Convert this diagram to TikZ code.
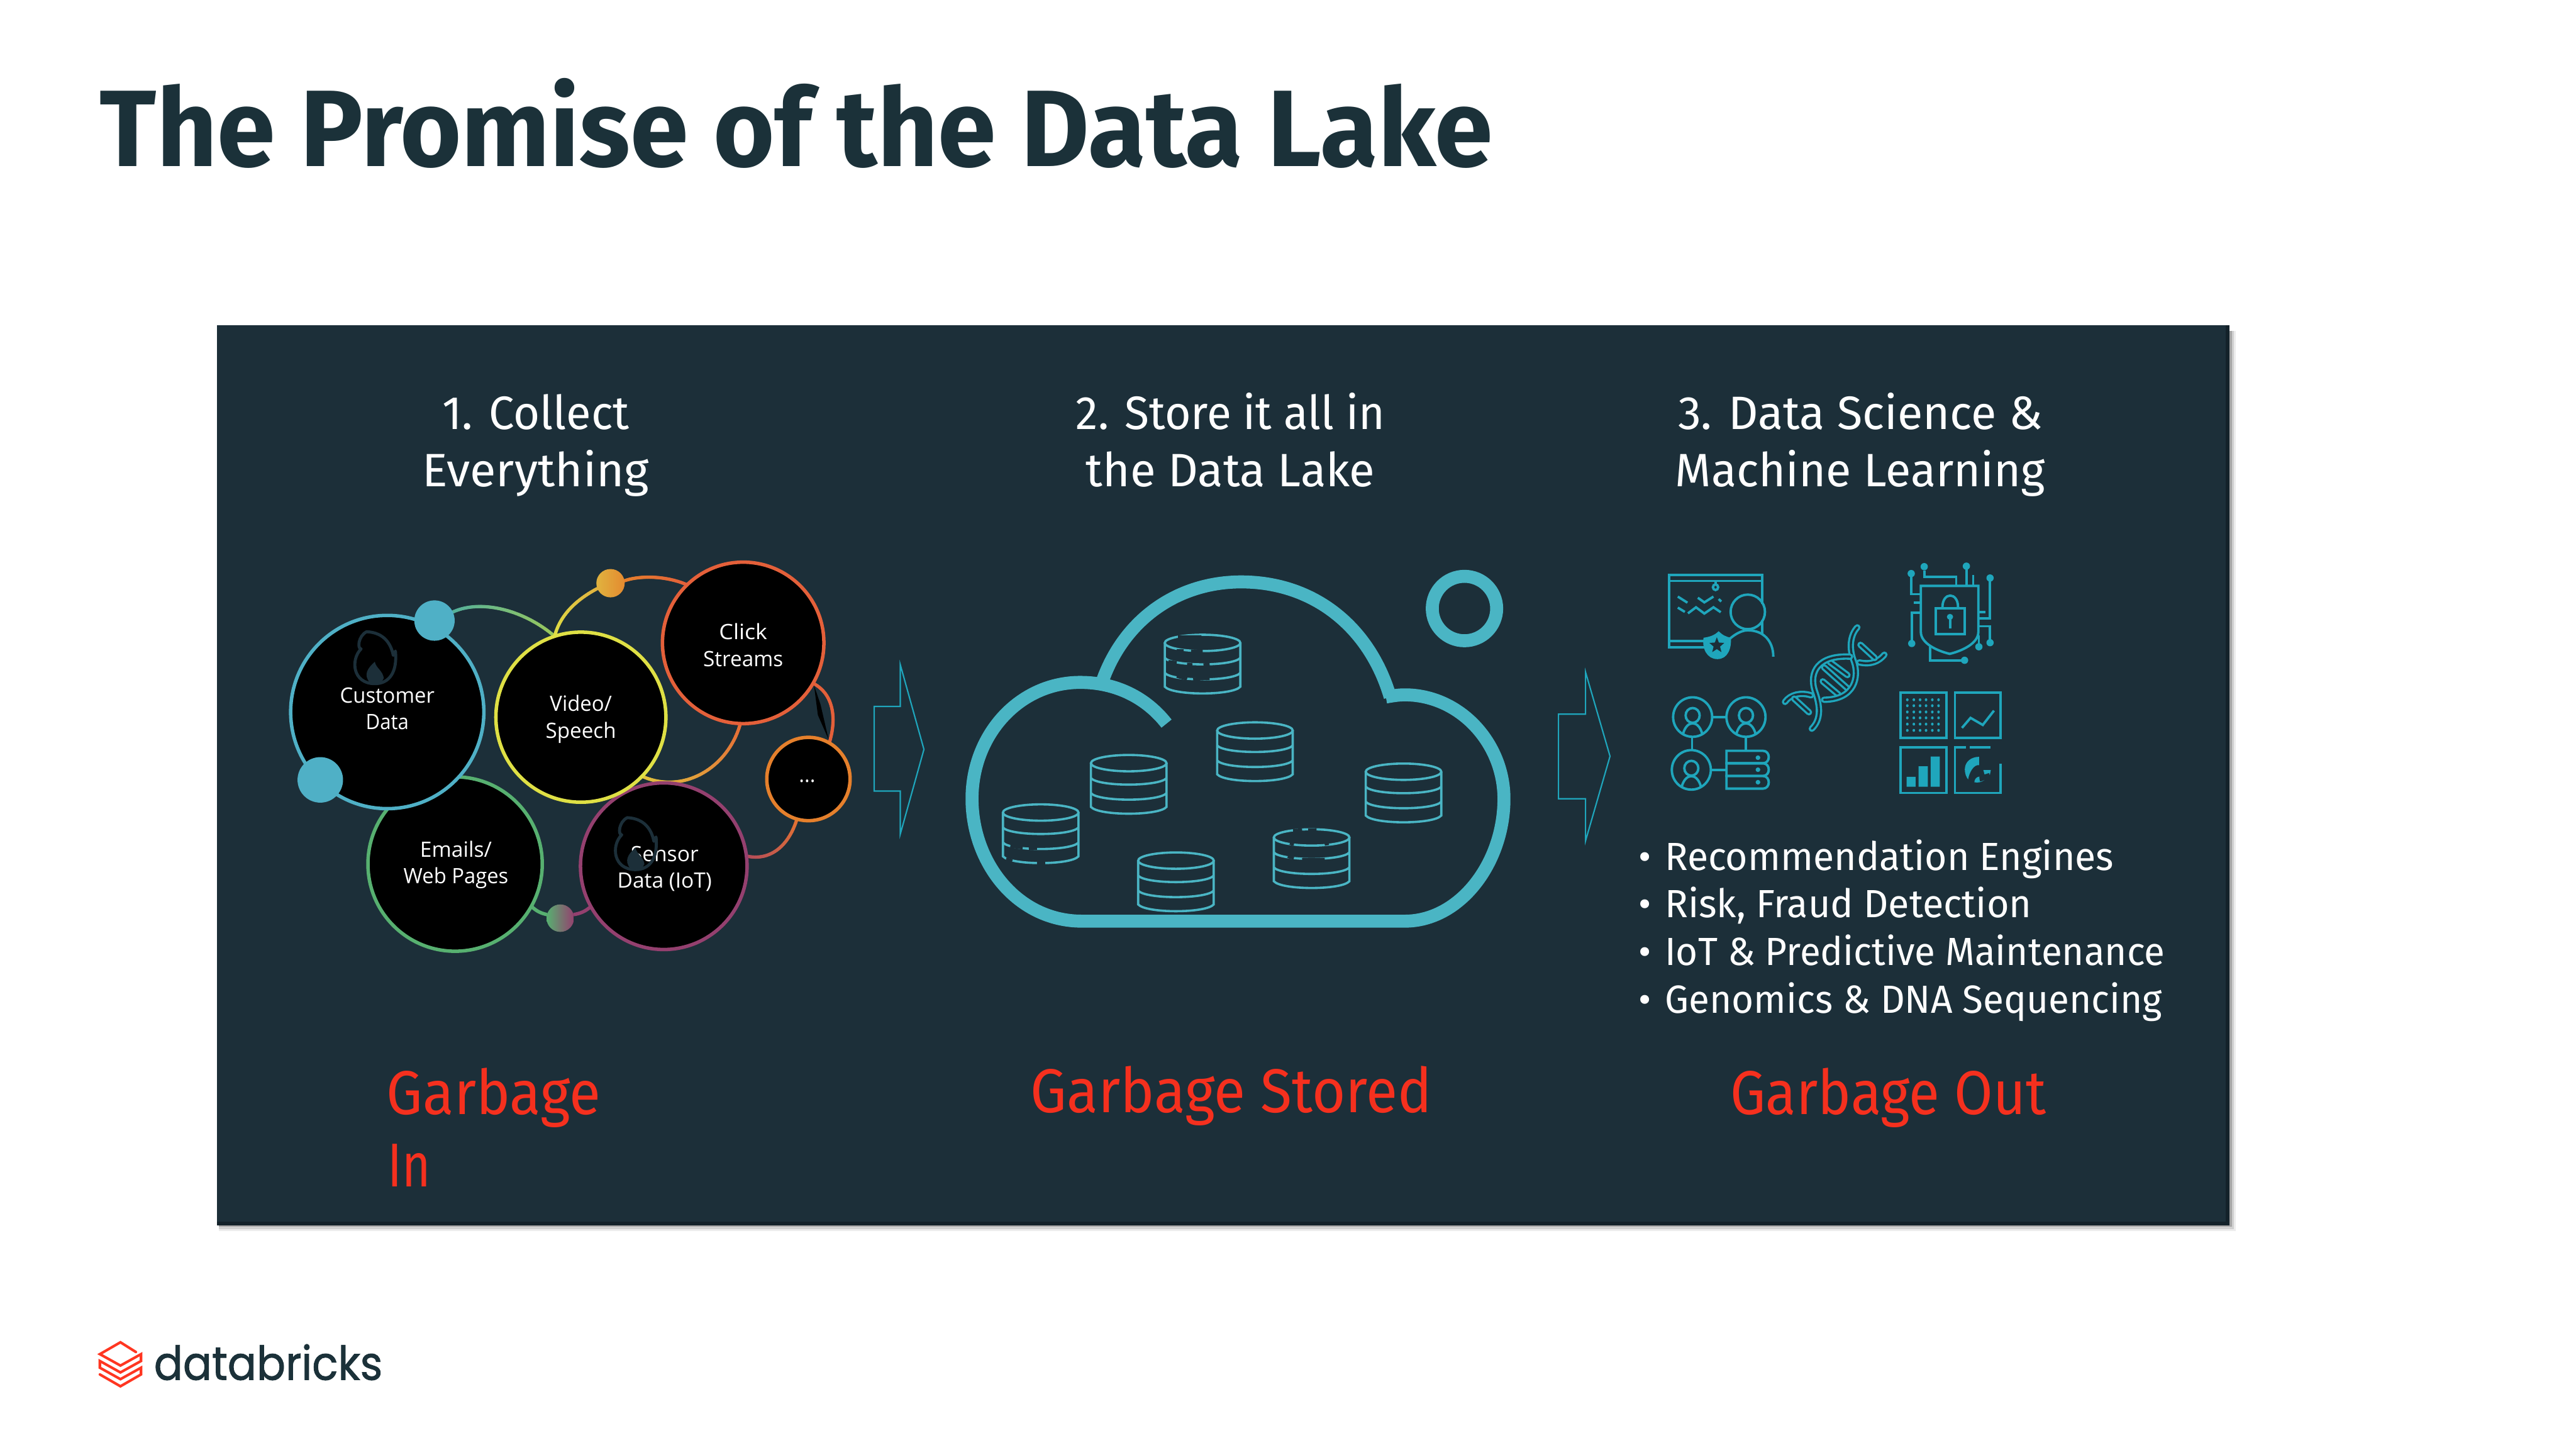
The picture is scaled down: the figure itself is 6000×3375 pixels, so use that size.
\documentclass[tikz,border=0pt]{standalone}
\usepackage{fontspec}
\usetikzlibrary{decorations.markings}
\setmainfont{Fira Sans}
\newfontfamily\labelfont{Open Sans}
\newfontfamily\logofont{Poppins}[FakeBold=1.2]
\definecolor{panelc}{HTML}{1C2F39}
\definecolor{paneld}{HTML}{13222A}
\definecolor{titlec}{HTML}{1B3139}
\definecolor{tealc}{HTML}{4AB5C4}
\definecolor{iconc}{HTML}{1FA6BC}
\definecolor{redc}{HTML}{F5301E}
\definecolor{logored}{HTML}{FF3621}
\definecolor{cCust}{HTML}{4FB0C6}
\definecolor{cVideo}{HTML}{DFE045}
\definecolor{cClick}{HTML}{E4603A}
\definecolor{cDots}{HTML}{E5802C}
\definecolor{cMail}{HTML}{57B070}
\definecolor{cSens}{HTML}{94406F}
\definecolor{cGold}{HTML}{E0B33F}
\def\fs#1#2{\fontsize{#1}{#2}\selectfont}
\newsavebox\fitbox
\newcommand{\fitx}[2]{\sbox\fitbox{#2}\pgfmathsetmacro\fxs{#1*0.28453/\the\wd\fitbox}\scalebox{\fxs}[1]{\usebox\fitbox}\strut}
\tikzset{
  x=0.01cm,y=-0.01cm,
  hub/.style={circle,inner sep=0pt,outer sep=0pt,minimum size=#1*0.28453pt},
  ring/.style={fill=black,line width=2.3pt},
  lab/.style={text=white,align=center,inner sep=0pt,font=\labelfont\fs{14}{17.6}},
  head/.style={text=white,align=center,font=\fs{31}{38},inner sep=0pt},
  redtext/.style={text=redc,font=\fs{41}{47},inner sep=0pt,anchor=base},
  bullet/.style={text=white,font=\fs{26}{30},inner sep=0pt,anchor=base west},
  flame/.style={draw=panelc,line width=2pt},
  chevron/.style={draw=iconc,line width=0.9pt,line join=miter},
  drum/.style={draw=tealc,line width=1.5pt},
  cloudline/.style={draw=tealc,line width=8.6pt,line cap=butt,line join=round},
  ic/.style={draw=iconc,line width=1.6pt},
  icf/.style={fill=iconc,draw=none},
  dna/.style={draw=iconc,line width=1.4pt,double=panelc,double distance=1.4pt,line cap=round},
  gapc/.style={draw=panelc,line width=2pt},
  logol/.style={draw=logored,line width=1.7pt,line join=miter,line cap=round},
  gradarc/.style n args={3}{decorate,decoration={markings,mark=between positions 0 and 1 step 0.7pt with {%
     \pgfmathsetmacro\pct{100*\pgfkeysvalueof{/pgf/decoration/mark info/distance from start}/\pgfdecoratedpathlength}%
     \fill[color=#2!\pct!#1] (0,0) circle[radius=#3];}}},
}
\newcommand{\drumicon}[3]{% name, x, y
  \coordinate (#1) at (#2,#3);
  \begin{scope}[shift={(#1)}]
    \draw[drum] (-88,0) -- (-88,102) .. controls (-70,123) and (70,123) .. (88,102) -- (88,0);
    \draw[drum] (0,0) ellipse[x radius=88,y radius=19];
    \draw[drum] (-88,35) .. controls (-70,55) and (70,55) .. (88,35);
    \draw[drum] (-88,70) .. controls (-70,90) and (70,90) .. (88,70);
  \end{scope}}
\newcommand{\flameicon}[3]{% name x y (top-left)
  \coordinate (#1) at (#2,#3);
  \begin{scope}[shift={(#1)}]
    \draw[flame,line join=round] (28,0) .. controls (8,10) and (6,40) .. (15,40) .. controls (-10,65) and (-5,121) .. (47,121)
      .. controls (80,121) and (100,95) .. (95,45) -- (90,55) .. controls (85,30) and (70,2) .. (28,0) -- cycle;
    \fill[panelc] (35,118) .. controls (20,100) and (30,85) .. (47,70) .. controls (50,85) and (65,90) .. (68,108) .. controls (65,118) and (55,121) .. (47,121) -- cycle;
  \end{scope}}
\newcommand{\personicon}[3]{% name, cx, cy in crop coordinates
  \coordinate (#1) at (#2,#3);
  \begin{scope}[shift={(#1)}]
    \draw[ic] (0,0) ellipse[x radius=75,y radius=120];
    \draw[ic] (0,-10) ellipse[x radius=27,y radius=45];
    \draw[ic] (-37,103) .. controls (-30,60) and (-15,38) .. (0,38) .. controls (15,38) and (30,60) .. (37,103);
  \end{scope}}
\begin{document}
\begin{tikzpicture}
\useasboundingbox (0,0) rectangle (6000,3375);
\fill[white] (0,0) rectangle (6000,3375);
\node[anchor=base west,inner sep=0pt,text=titlec,font=\bfseries\fs{72}{86}] (title) at (232,388) {\fitx{3242}{The Promise of the Data Lake}};
% panel
\fill[black!7] (510,770) rectangle (5208,2867);
\fill[black!18] (510,770) rectangle (5203,2862);
\fill[black!35] (510,770) rectangle (5198,2857);
\fill[paneld] (505,757) rectangle (5193,2853);
\fill[panelc] (505,757) rectangle (5184,2844);
% headings
\node[head] (h1) at (1248,1040) {\fitx{436}{1. Collect}\\\fitx{528}{Everything}};
\node[head] (h2) at (2866,1040) {\fitx{719}{2. Store it all in}\\\fitx{673}{the Data Lake}};
\node[head] (h3) at (4333,1040) {\fitx{849}{3. Data Science \&}\\\fitx{861}{Machine Learning}};
% bubble anchors
\node[hub=450] (cust) at (902,1658) {};
\node[hub=396] (video) at (1353,1670) {};
\node[hub=376] (click) at (1731,1497) {};
\node[hub=194] (dots) at (1883,1814) {};
\node[hub=406] (mail) at (1060,2012) {};
\node[hub=388] (sens) at (1546,2017) {};
\node[hub=94] (n1) at (1012,1445) {};
\node[hub=106] (n2) at (746,1816) {};
\node[hub=66] (n3) at (1422,1358) {};
\node[hub=64] (n4) at (1305,2138) {};
% connectors
\path[gradarc={cCust!50!cMail}{cVideo}{1.15pt}] (n1.25) .. controls (1120,1395) and (1220,1420) .. (video.108);
\path[gradarc={cVideo}{cGold}{1.15pt}] (video.108) .. controls (1305,1430) and (1345,1395) .. (n3.202);
\path[gradarc={cDots}{cClick}{1.15pt}] (n3.10) .. controls (1490,1340) and (1550,1340) .. (click.134);
\path[gradarc={cClick!70!cDots}{cVideo}{1.15pt}] (click.-92) .. controls (1695,1790) and (1590,1850) .. (video.-44);
\path[gradarc={cClick}{cClick}{1.15pt}] (click.-30) .. controls (1940,1615) and (1950,1670) .. (dots.60);
\path[gradarc={cDots!60!cClick}{cSens}{1.15pt}] (dots.-106) .. controls (1835,1975) and (1790,2005) .. (sens.7);
\draw[cMail,line width=2.3pt] (mail.-29) to[bend right=15] (n4.165);
\draw[cSens,line width=2.3pt] (n4.15) to[bend right=15] (sens.209);
% bubbles
\draw[ring,cMail,fill=black] (mail) circle[radius=203];
\draw[ring,cCust,fill=black] (cust) circle[radius=225];
\draw[ring,cSens,fill=black] (sens) circle[radius=194];
\draw[ring,cVideo,fill=black] (video) circle[radius=198];
\draw[ring,cClick,fill=black] (click) circle[radius=188];
\draw[ring,cDots,fill=black] (dots) circle[radius=97];
\fill[black] (1896,1596) -- (1911,1640) -- (1930,1722) -- (1905,1665) -- cycle;
\fill[cCust] (n1) circle[radius=47];
\fill[cCust] (n2) circle[radius=53];
\shade[left color=cGold,right color=cDots!80!cGold] (n3) circle[radius=33];
\shade[left color=cMail,right color=cSens] (n4) circle[radius=32];
% bubble labels
\node[lab] (lcust) at (902,1655) {\fitx{220}{Customer}\\\fitx{100}{Data}};
\node[lab] (lvideo) at (1353,1675) {\fitx{144}{Video/}\\\fitx{164}{Speech}};
\node[lab] (lclick) at (1731,1508) {\fitx{112}{Click}\\\fitx{186}{Streams}};
\node[lab] (ldots) at (1880,1809) {\fitx{38}{...}};
\node[lab] (lmail) at (1062,2014) {\fitx{167}{Emails/}\\\fitx{244}{Web Pages}};
\node[lab] (lsens) at (1548,2025) {\fitx{158}{Sensor}\\\fitx{220}{Data (IoT)}};
\flameicon{fl1}{826}{1471}
\flameicon{fl2}{1433}{1904}
% chevrons
\draw[chevron] (2036,1645) -- (2097,1645) -- (2097,1548) -- (2152,1745) -- (2097,1942) -- (2097,1842) -- (2036,1842) -- cycle;
\draw[chevron] (3630,1663) -- (3693,1663) -- (3693,1565) -- (3750,1761) -- (3693,1958) -- (3693,1860) -- (3630,1860) -- cycle;
% cloud
\draw[cloudline] (2717,1685) .. controls (2670,1625) and (2600,1589) .. (2516,1589) .. controls (2375,1589) and (2264,1710) .. (2264,1860) .. controls (2264,2010) and (2370,2145) .. (2520,2145) -- (3272,2145) .. controls (3400,2145) and (3503,2010) .. (3503,1860) .. controls (3503,1730) and (3400,1618) .. (3272,1618) .. controls (3258,1618) and (3245,1620) .. (3228,1623);
\draw[cloudline] (2568,1585) .. controls (2620,1440) and (2745,1355) .. (2891,1355) .. controls (3060,1355) and (3190,1460) .. (3238,1623);
\draw[draw=tealc,line width=8.6pt] (3411,1417) circle[radius=75];
\drumicon{da}{2801}{1497}
\drumicon{db}{2923}{1701}
\drumicon{dc}{2629}{1777}
\drumicon{dd}{3269}{1797}
\drumicon{de}{2424}{1892}
\drumicon{df}{2739}{2004}
\drumicon{dg}{3055}{1950}
\begin{scope}[shift={(2200,1280)},x=0.00957cm,y=-0.00638cm]
  \draw[gapc] (568,318)--(625,318) (565,368)--(582,368) (600,370)--(628,370) (545,408)--(565,412) (590,418)--(603,420) (630,420)--(645,418) (565,462)--(590,472) (605,473)--(645,470);
  \draw[gapc] (160,1082)--(190,1088) (205,1090)--(225,1090) (150,1128)--(165,1135) (225,1142)--(245,1142);
  \draw[gapc] (848,1025)--(870,1022) (885,1022)--(905,1022) (840,1072)--(850,1075) (925,1075)--(935,1072) (835,1120)--(850,1125) (870,1130)--(925,1130);
\end{scope}
% icons, in crop coordinates
\begin{scope}[shift={(3800,1280)},x=0.00606cm,y=-0.00383cm]
  % presenter
  \draw[ic] (503,330) -- (503,155) -- (145,155) -- (145,593) -- (280,593) (145,190) -- (503,190) (145,555) -- (280,555) (503,430) -- (503,515);
  \draw[ic] (323,195) -- (323,210);
  \draw[ic] (323,228) ellipse[x radius=10,y radius=17];
  \draw[ic] (178,285) -- (215,322) (255,292) -- (280,320) -- (315,285) (335,300) -- (345,315);
  \draw[ic] (178,352) -- (205,378) (217,387) -- (248,350) -- (280,388) -- (315,350) -- (343,380);
  \draw[ic] (447,378) ellipse[x radius=66,y radius=105];
  \draw[ic] (375,545) .. controls (400,510) and (425,490) .. (447,490) .. controls (510,490) and (545,560) .. (545,650);
  \fill[iconc] (335,495) .. controls (320,520) and (300,530) .. (277,535) .. controls (270,600) and (290,665) .. (330,665) .. controls (370,665) and (385,600) .. (382,535) .. controls (365,530) and (350,520) .. (335,495) -- cycle;
  \fill[panelc] plot[samples at={0,...,9}] ({328+(mod(\x,2)==0?30:13)*cos(90+36*\x)},{582-(mod(\x,2)==0?50:22)*sin(90+36*\x)}) -- cycle;
  % shield
  \draw[ic] (1112,220) -- (1333,220) -- (1333,500) .. controls (1333,570) and (1270,615) .. (1223,633) .. controls (1175,615) and (1112,570) .. (1112,500) -- cycle;
  \draw[ic] (1170,355) rectangle (1280,513);
  \draw[ic] (1195,350) .. controls (1195,255) and (1255,255) .. (1255,350);
  \fill[iconc] (1224,408) ellipse[x radius=12,y radius=18];
  \draw[ic] (1224,420) -- (1224,480);
  \draw[ic] (1075,165) -- (1075,270) -- (1110,270) (1125,125) -- (1125,165) -- (1248,165) -- (1248,215) (1287,120) -- (1287,215) (1313,155) -- (1313,215) (1378,190) -- (1378,418) -- (1335,418) (1085,322) -- (1108,322) (1335,378) -- (1360,378) (1077,550) -- (1077,382) -- (1110,382) (1335,465) -- (1378,465) -- (1378,545) (1335,520) -- (1335,570) (1147,590) -- (1147,672) -- (1270,672);
  \foreach \a/\b in {1075/145,1125/103,1287/100,1378/172,1077/570,1378/565,1335/590,1280/672}{\fill[iconc] (\a,\b) ellipse[x radius=14,y radius=22];}
  % dna
  \draw[dna] (972,638) .. controls (950,680) and (920,700) .. (875,685);
  \draw[dna] (590,925) .. controls (610,880) and (650,865) .. (690,885);
  \draw[dna] (880,578) -- (935,658);
  \draw[dna] (625,905) -- (682,988);
  \draw[dna] (762,682) -- (830,762);
  \draw[dna] (740,715) -- (832,845);
  \draw[dna] (735,800) -- (795,880);
  \draw[dna] (868,472) .. controls (840,520) and (835,600) .. (855,680) .. controls (875,770) and (860,910) .. (740,912);
  \draw[dna] (693,1088) .. controls (730,1030) and (725,950) .. (705,860) .. controls (680,740) and (720,640) .. (840,650);
  % network
  \personicon{pa}{235}{1017}
  \personicon{pb}{440}{1017}
  \personicon{pc}{230}{1338}
  \draw[ic] (310,1018) -- (365,1018) (233,1137) -- (233,1218) (440,1137) -- (440,1222) (305,1338) -- (365,1338);
  \draw[ic] (365,1222) -- (505,1222) .. controls (535,1222) and (535,1298) .. (505,1298) -- (365,1298) -- cycle;
  \draw[ic] (365,1298) -- (505,1298) .. controls (535,1298) and (535,1375) .. (505,1375) -- (365,1375) -- cycle;
  \draw[ic] (365,1375) -- (505,1375) .. controls (535,1375) and (535,1452) .. (505,1452) -- (365,1452) -- cycle;
  \foreach \b in {1264,1337,1413}{\fill[iconc] (486,\b) ellipse[x radius=9,y radius=14];}
  % dashboards
  \draw[ic] (1035,867) rectangle (1210,1143);
  \draw[ic] (1243,867) rectangle (1418,1143);
  \draw[ic] (1035,1200) rectangle (1210,1478);
  \draw[ic] (1243,1200) rectangle (1418,1478);
  \foreach \a in {1060,1085,1109,1132,1156,1180}{\foreach \b in {912,948,986,1022,1060,1098}{\fill[iconc] (\a,\b) ellipse[x radius=5,y radius=9];}}
  \draw[ic] (1270,1083) -- (1303,1022) -- (1350,1065) -- (1393,978);
  \fill[iconc] (1057,1380) rectangle (1092,1440) (1103,1316) rectangle (1139,1440) (1150,1257) rectangle (1185,1440);
  \draw[gapc,line width=2.2pt] (1285,1198) -- (1300,1198) (1380,1198) -- (1425,1198) (1420,1205) -- (1420,1300);
\end{scope}
\begin{scope}[shift={(4400,1750)},x=0.00333cm,y=-0.00333cm]
  \fill[iconc] (630,37) .. controls (570,37) and (530,75) .. (530,125) .. controls (530,155) and (540,178) .. (553,195) .. controls (560,150) and (590,90) .. (630,95) -- cycle;
  \fill[iconc] (660,130) -- (712,130) -- (705,165) -- (700,150) -- (668,160) -- cycle;
  \fill[iconc] (597,215) .. controls (597,195) and (610,178) .. (632,175) .. controls (632,195) and (635,205) .. (636,210) .. controls (650,208) and (660,204) .. (667,199) .. controls (650,215) and (620,220) .. (597,215) -- cycle;
\end{scope}
% bullets
\node[bullet] (b1) at (3877,2026) {\fitx{1045}{Recommendation Engines}};
\node[bullet] (b2) at (3877,2136) {\fitx{854}{Risk, Fraud Detection}};
\node[bullet] (b3) at (3877,2248) {\fitx{1164}{IoT \& Predictive Maintenance}};
\node[bullet] (b4) at (3877,2359) {\fitx{1158}{Genomics \& DNA Sequencing}};
\node[bullet,anchor=base] (d1) at (3831,2026) {•};
\node[bullet,anchor=base] (d2) at (3831,2136) {•};
\node[bullet,anchor=base] (d3) at (3831,2248) {•};
\node[bullet,anchor=base] (d4) at (3831,2359) {•};
% red captions
\node[redtext,anchor=base west] (r1) at (900,2595) {\fitx{498}{Garbage}};
\node[redtext,anchor=base west] (r1b) at (903,2763) {\fitx{100}{In}};
\node[redtext,anchor=base west] (r2) at (2400,2591) {\fitx{934}{Garbage Stored}};
\node[redtext,anchor=base west] (r3) at (4030,2595) {\fitx{735}{Garbage Out}};
% logo
\begin{scope}[shift={(200,3080)},x=0.004785cm,y=-0.00333cm]
  \draw[logol] (243,205) -- (168,137) -- (68,220) -- (168,300) -- (268,220) -- (268,268) -- (168,348) -- (68,268) -- (68,315) -- (168,395) -- (268,315) -- (268,362) -- (168,445) -- (68,362);
\end{scope}
\node[anchor=base west,inner sep=0pt,text=titlec,font=\logofont\fs{31}{36}] (logo) at (358,3213) {\fitx{532}{databricks}};
\end{tikzpicture}
\end{document}
